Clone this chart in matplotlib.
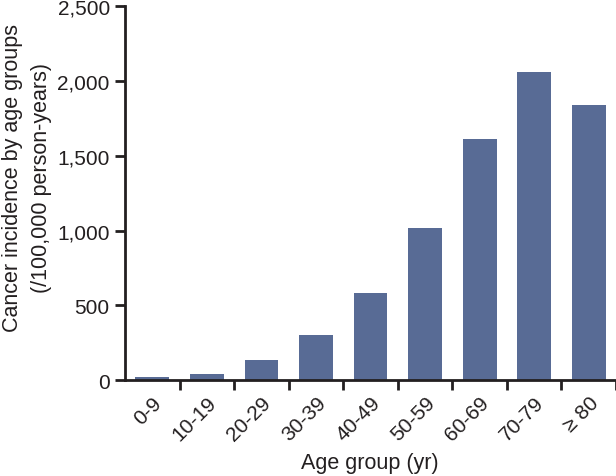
import numpy as np
import matplotlib
matplotlib.use("Agg")
from matplotlib import pyplot as plt
from matplotlib import font_manager

groups = ["0-9", "10-19", "20-29", "30-39", "40-49", "50-59", "60-69", "70-79", "\u2265 80"]
incidence = [20, 40, 134, 300, 582, 1016, 1611, 2059, 1838]
yticks = [0, 500, 1000, 1500, 2000, 2500]
ytick_labels = ["0", "500", "1,000", "1,500", "2,000", "2,500"]

names = {f.name for f in font_manager.fontManager.ttflist}
fam = "Liberation Sans Narrow" if "Liberation Sans Narrow" in names else "Liberation Sans"
plt.rcParams["font.family"] = [fam, "DejaVu Sans"]

ink = "#231f20"
fig = plt.figure(figsize=(6.16, 4.77), dpi=100)
ax = fig.add_axes([0.203, 0.201, 0.797, 0.784])

x = np.arange(len(groups))
ax.bar(x, incidence, width=0.62, color="#586b95")

ax.set_xlim(-0.5, 8.5)
ax.set_ylim(0, 2500)
ax.set_yticks(yticks)
ax.set_yticklabels(ytick_labels, fontsize=15, color=ink)
ax.set_xticks(x + 0.5)
ax.set_xticklabels([])
ax.set_xticks(x, minor=True)
ax.set_xticklabels(groups, minor=True, rotation=45, ha="right", va="top",
                   rotation_mode="anchor", fontsize=15, color=ink)
ax.tick_params(axis="x", which="minor", length=0, pad=9)
ax.tick_params(axis="x", which="major", length=7, width=2, color=ink)
ax.tick_params(axis="y", length=7, width=2, color=ink, pad=4)

for s in ["top", "right"]:
    ax.spines[s].set_visible(False)
for s in ["left", "bottom"]:
    ax.spines[s].set_linewidth(2)
    ax.spines[s].set_color(ink)

# axis titles placed in figure coordinates
fig.text(370 / 616, 1 - 464 / 477, "Age group (yr)", fontsize=15.5, color=ink,
         ha="center", va="center")
fig.text(27 / 616, 1 - 178 / 477, "Cancer incidence by age groups\n(/100,000 person-years)",
         fontsize=15.5, color=ink, ha="center", va="center", rotation=90,
         linespacing=1.45, multialignment="center")

fig.savefig("out.png", dpi=100)
